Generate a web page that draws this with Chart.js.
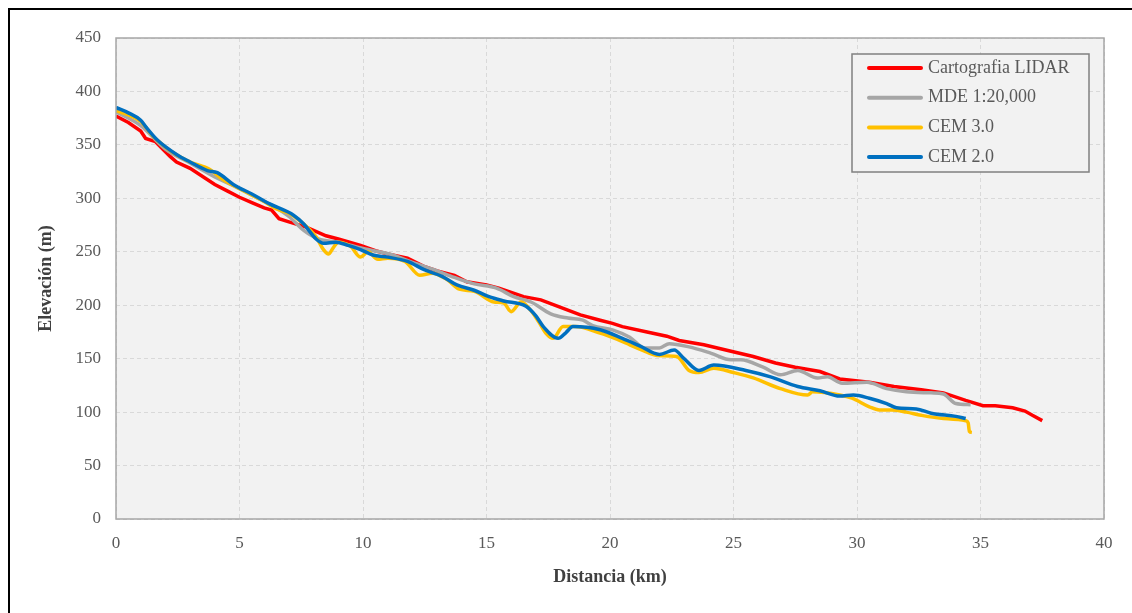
<!DOCTYPE html>
<html>
<head>
<meta charset="utf-8">
<script src="https://cdn.jsdelivr.net/npm/chart.js@4/dist/chart.umd.min.js"></script>
<style>
  body { margin: 0; background: #fff; }
  #wrap { position: relative; width: 1132px; height: 613px; }
  #frame { position: absolute; left: 8px; top: 8px; right: 0; bottom: 0;
           border-top: 2px solid #000; border-left: 2px solid #000; pointer-events: none; }
  canvas { position: absolute; left: 0; top: 0; }
</style>
</head>
<body>
<div id="wrap">
  <canvas id="perfil" width="1132" height="613"></canvas>
  <div id="frame"></div>
</div>
<script>
// Perfil longitudinal: distancia (km) / elevación (m)
const lidarKm = [0, 0.5, 1.0, 1.2, 1.6, 1.9, 2.2, 2.45, 3.0, 3.6, 4.0, 4.5, 5.0, 5.5, 6.0, 6.3, 6.6, 7.0, 7.7, 8.5, 9.0, 9.9,
  10.5, 11.0, 11.8, 12.5, 13.0, 13.7, 14.2, 15.0, 15.5, 16.0, 16.5, 17.2, 18.0, 18.8, 19.6, 20.1, 20.5, 21.5, 22.3, 22.8,
  23.8, 24.9, 25.8, 26.7, 27.5, 28.5, 29.3, 30.5, 31.5, 32.6, 33.5, 34.4, 35.1, 35.6, 36.3, 36.8, 37.1, 37.5];
const lidarElev = [377, 371, 363, 356, 353, 346, 339, 334, 328, 319, 313, 307, 301, 296, 291, 289, 281, 278, 273, 265, 262, 256,
  251, 248, 244, 236, 232, 228, 222, 219, 216, 212, 208, 205, 198, 191, 186, 183, 180, 175, 171, 167,
  163, 157, 152, 146, 142, 138, 131, 128, 124, 121, 118, 111, 106, 106, 104, 101, 97, 92];

const mdeKm = [0, 1.0, 2.0, 3.0, 4.0, 5.0, 6.0, 6.5, 7.0, 7.6, 8.2, 9.0, 10.0, 11.2, 12.0, 12.9, 13.7, 14.5, 15.4, 16.1, 16.8,
  17.6, 18.3, 18.9, 19.3, 20.1, 20.8, 21.4, 22.0, 22.4, 23.2, 24.1, 24.9, 25.3, 26.2, 26.9, 27.6, 28.4, 28.8, 29.4, 30.4,
  31.2, 32.0, 33.0, 33.5, 34.0, 34.6];
const mdeElev = [381, 368, 346, 333, 320, 309, 297, 291, 283, 270, 262, 259, 253, 247, 240, 233, 226, 220, 216, 208, 203,
  192, 188, 186, 181, 177, 170, 160, 160, 164, 161, 155, 149, 149, 142, 135, 139, 132, 133, 127, 128,
  122, 119, 118, 117, 108, 107];

const cem3Km = [0, 0.5, 1.0, 1.5, 2.0, 2.5, 3.0, 3.8, 4.3, 5.0, 6.0, 6.5, 7.0, 7.5, 8.1, 8.4, 8.6, 8.8, 9.0, 9.5, 9.9, 10.2,
  10.6, 11.0, 11.7, 12.3, 12.8, 13.4, 13.9, 14.5, 15.3, 15.7, 16.0, 16.4, 16.8, 17.1, 17.4, 17.7, 18.1, 18.6, 19.6, 20.3,
  20.8, 21.3, 21.9, 22.7, 23.2, 23.6, 24.2, 25.0, 25.8, 26.9, 28.0, 28.2, 29.3, 29.8, 30.5, 30.9, 31.4, 32.0, 32.6, 33.5,
  34.4, 34.5, 34.55, 34.65];
const cem3Elev = [382, 378, 372, 358, 348, 340, 334, 327, 318, 309, 297, 290, 286, 278, 264, 252, 248, 254, 259, 255, 245, 250,
  243, 244, 241, 228, 230, 224, 215, 213, 203, 202, 194, 203, 195, 185, 174, 169, 180, 180, 174, 168,
  163, 158, 153, 152, 139, 137, 141, 137, 132, 122, 116, 119, 116, 113, 105, 102, 102, 100, 97, 94,
  92, 90, 82, 81];

const cem2Km = [0, 0.5, 1.0, 1.2, 1.65, 2.45, 3.0, 3.7, 4.1, 4.75, 5.5, 6.2, 7.2, 7.6, 8.1, 8.4, 8.9, 9.4, 9.9, 10.4, 11.0,
  11.8, 12.5, 13.2, 13.8, 14.5, 15.1, 15.7, 16.6, 17.0, 17.3, 17.9, 18.2, 18.5, 19.6, 20.5, 21.2, 22.0, 22.6, 23.0,
  23.6, 24.2, 25.5, 26.5, 27.6, 28.5, 29.3, 29.85, 30.5, 31.2, 31.6, 32.4, 33.0, 34.0, 34.4];
const cem2Elev = [385, 380, 373, 367, 355, 341, 334, 326, 324, 313, 304, 295, 284, 276, 262, 258, 259, 256, 252, 247, 245,
  241, 233, 227, 219, 214, 208, 204, 199, 190, 180, 169, 174, 180, 177, 169, 162, 154, 158, 150,
  139, 144, 139, 133, 124, 120, 115, 116, 113, 108, 104, 103, 99, 96, 94];

const seriesNames = ['Cartografia LIDAR', 'MDE 1:20,000', 'CEM 3.0', 'CEM 2.0'];
const seriesColors = ['#ff0000', '#a6a6a6', '#ffc000', '#0070c0'];
const xTicks = [0, 5, 10, 15, 20, 25, 30, 35, 40];
const yTicks = [0, 50, 100, 150, 200, 250, 300, 350, 400, 450];

function pares(xs, ys) {
  return xs.map((x, i) => ({ x: x, y: ys[i] }));
}

const fondoPlot = {
  id: 'fondoPlot',
  beforeDraw(chart) {
    const a = chart.chartArea, ctx = chart.ctx;
    ctx.save();
    ctx.fillStyle = '#f2f2f2';
    ctx.fillRect(a.left, a.top, a.right - a.left, a.bottom - a.top);
    ctx.restore();
  },
  afterDraw(chart) {
    const a = chart.chartArea, ctx = chart.ctx;
    ctx.save();
    ctx.strokeStyle = '#a6a6a6';
    ctx.lineWidth = 1.5;
    ctx.strokeRect(a.left, a.top, a.right - a.left, a.bottom - a.top);
    // leyenda dentro del area
    const w = 237, h = 118;
    const lx = a.right - 15 - w, ly = a.top + 16;
    ctx.fillStyle = '#f2f2f2';
    ctx.fillRect(lx, ly, w, h);
    ctx.strokeStyle = '#808080';
    ctx.lineWidth = 1.5;
    ctx.strokeRect(lx, ly, w, h);
    ctx.font = '18px "Liberation Serif", "Times New Roman", serif';
    ctx.textBaseline = 'middle';
    seriesNames.forEach((name, i) => {
      const y = ly + 14 + i * 29.7;
      ctx.strokeStyle = seriesColors[i];
      ctx.lineWidth = 4;
      ctx.lineCap = 'round';
      ctx.beginPath();
      ctx.moveTo(lx + 17, y);
      ctx.lineTo(lx + 69, y);
      ctx.stroke();
      ctx.fillStyle = '#595959';
      ctx.fillText(name, lx + 76, y);
    });
    ctx.restore();
  }
};

const serie = (i, xs, ys, smooth, order) => ({
  label: seriesNames[i],
  data: pares(xs, ys),
  borderColor: seriesColors[i],
  backgroundColor: seriesColors[i],
  borderWidth: 3.5,
  pointRadius: 0,
  fill: false,
  tension: smooth ? 0.4 : 0,
  cubicInterpolationMode: smooth ? 'monotone' : 'default',
  order: order
});

new Chart(document.getElementById('perfil'), {
  type: 'line',
  data: {
    datasets: [
      serie(0, lidarKm, lidarElev, false, 3),
      serie(1, mdeKm, mdeElev, true, 2),
      serie(2, cem3Km, cem3Elev, true, 1),
      serie(3, cem2Km, cem2Elev, true, 0)
    ]
  },
  options: {
    responsive: false,
    animation: false,
    devicePixelRatio: 1,
    layout: { padding: { top: 38, right: 28, left: 0, bottom: 0 } },
    plugins: { legend: { display: false }, tooltip: { enabled: false } },
    scales: {
      x: {
        type: 'linear',
        min: 0, max: 40,
        afterFit(s) { s.height = 94; },
        afterBuildTicks(s) { s.ticks = xTicks.map(v => ({ value: v })); },
        border: { display: false, dash: [4, 3] },
        grid: { color: '#d9d9d9', drawTicks: false, lineWidth: 1 },
        ticks: { padding: 14, color: '#595959', font: { family: '"Liberation Serif", serif', size: 17 } },
        title: {
          display: true, text: 'Distancia (km)', color: '#404040',
          padding: { bottom: 25 },
          font: { family: '"Liberation Serif", serif', size: 18, weight: 'bold' }
        }
      },
      y: {
        min: 0, max: 450,
        afterFit(s) { s.width = 116; },
        afterBuildTicks(s) { s.ticks = yTicks.map(v => ({ value: v })); },
        border: { display: false, dash: [4, 3] },
        grid: { color: '#d9d9d9', drawTicks: false, lineWidth: 1 },
        ticks: { padding: 15, color: '#595959', font: { family: '"Liberation Serif", serif', size: 17 } },
        title: {
          display: true, text: 'Elevación (m)', color: '#404040',
          padding: { top: 36 },
          font: { family: '"Liberation Serif", serif', size: 18, weight: 'bold' }
        }
      }
    }
  },
  plugins: [fondoPlot]
});
</script>
</body>
</html>
